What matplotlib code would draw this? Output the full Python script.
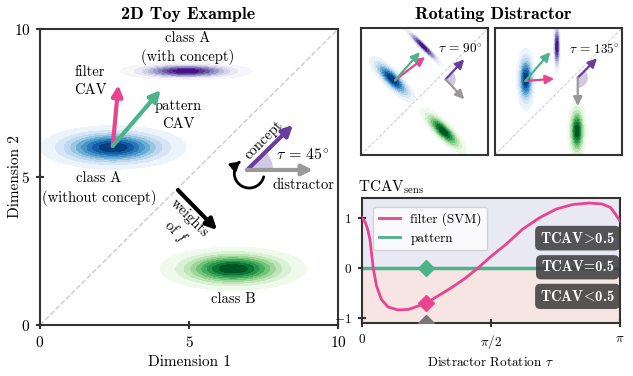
import numpy as np
import matplotlib.pyplot as plt
from matplotlib.patches import Wedge, FancyArrowPatch
from matplotlib.path import Path
from matplotlib.lines import Line2D

plt.rcParams['font.family'] = ['cmr10', 'DejaVu Serif']
plt.rcParams['mathtext.fontset'] = 'cm'
plt.rcParams['axes.formatter.use_mathtext'] = True
plt.rcParams['font.size'] = 10.5

# ---- data ----
# class blobs: centre, std along distractor / across, colormap
class_centers = [(2.45, 6.0), (4.9, 8.58), (6.48, 1.9)]
class_spread = [(1.0, 0.3), (0.9, 0.12), (1.0, 0.3)]
class_cmaps = ['Blues', 'Purples', 'Greens']

# panels: left big one (tau=45) and two small ones
panel_tau = [45, 90, 135]
cav_origin = [(2.44, 6.05), (2.68, 5.9), (2.41, 5.85)]
filter_tip = [(2.63, 8.11), (5.04, 7.74), (4.69, 6.03)]
pattern_tip = [(4.05, 7.94), (4.64, 8.13), (4.38, 8.13)]
concept_origin = [(6.95, 5.24), (6.66, 5.98), (6.54, 6.11)]
concept_tip = [(8.49, 6.76), (8.13, 7.56), (8.06, 7.64)]
distractor_tip = [(9.16, 5.24), (8.13, 4.41), (6.54, 3.88)]
weights_start, weights_end = (4.63, 4.56), (5.94, 3.21)

# TCAV sensitivity vs distractor rotation
filter_tau = [0.0, 0.04, 0.07, 0.10, 0.14, 0.18, 0.24, 0.32, 0.44, 0.57, 0.69,
              0.79, 0.93, 1.09, 1.26, 1.42, 1.57, 1.76, 1.96, 2.17, 2.37, 2.57,
              2.77, 2.93, 3.03, 3.09, np.pi]
filter_sens = [1.0, 0.92, 0.78, 0.57, 0.0, -0.36, -0.63, -0.78, -0.84, -0.83, -0.76,
               -0.70, -0.56, -0.40, -0.21, 0.0, 0.22, 0.47, 0.77, 1.0, 1.17, 1.26,
               1.29, 1.27, 1.20, 1.07, 0.94]
pattern_tau = [0.0, np.pi]
pattern_sens = [0.0, 0.0]
marker_tau = np.pi / 4
marker_filter, marker_pattern = -0.70, 0.0

PINK = '#e8448f'
GREEN = '#4db38a'
PURPLE = '#6a3d9a'
GRAY = '#999999'
SPINE = '#333333'


def blob(ax, center, spread, angle, cmap):
    xx, yy = np.meshgrid(np.linspace(0, 10, 300), np.linspace(0, 10, 300))
    dx, dy = xx - center[0], yy - center[1]
    a = np.deg2rad(angle)
    u = dx * np.cos(a) + dy * np.sin(a)
    v = -dx * np.sin(a) + dy * np.cos(a)
    z = np.exp(-0.5 * ((u / spread[0]) ** 2 + (v / spread[1]) ** 2))
    ax.contourf(xx, yy, z, levels=np.linspace(0.05, 1, 10), cmap=cmap, zorder=1)


def arrow(ax, start, end, color, lw, hw=0.3, hl=0.6):
    ax.annotate('', xy=end, xytext=start, zorder=4,
                arrowprops=dict(arrowstyle=f'-|>,head_width={hw},head_length={hl}',
                                color=color, lw=lw, shrinkA=0, shrinkB=0))


def style(ax):
    for s in ax.spines.values():
        s.set_color(SPINE)
        s.set_linewidth(1.5)


def draw_panel(ax, i, big):
    tau = panel_tau[i]
    ax.plot([0, 10], [0, 10], ls='--', color='#cccccc', lw=1 if big else 0.7, zorder=0)
    for c, s, cm in zip(class_centers, class_spread, class_cmaps):
        blob(ax, c, s, 45 - tau, cm)
    lw = 3 if big else 1.6
    hw, hl = (0.3, 0.6) if big else (0.25, 0.5)
    r = 0.87 if big else 0.8
    ax.add_patch(Wedge(concept_origin[i], r, 45 - tau, 45, facecolor='#d3c8e4',
                       edgecolor='none', zorder=2))
    arrow(ax, cav_origin[i], filter_tip[i], PINK, lw, hw, hl)
    arrow(ax, cav_origin[i], pattern_tip[i], GREEN, lw, hw, hl)
    arrow(ax, concept_origin[i], concept_tip[i], PURPLE, lw, hw, hl)
    arrow(ax, concept_origin[i], distractor_tip[i], GRAY, lw, hw, hl)
    ax.set_xlim(0, 10)
    ax.set_ylim(0, 10)
    style(ax)


fig = plt.figure(figsize=(6.33, 3.76), dpi=100)

# ---- left: 2D toy example ----
ax0 = fig.add_axes([0.0632, 0.1356, 0.4708, 0.787])
draw_panel(ax0, 0, True)
arrow(ax0, weights_start, weights_end, 'black', 3)
# rotation hint: clockwise arc around the distractor origin
arc_c, arc_r = (7.02, 5.13), 0.5
th = np.deg2rad(np.linspace(-14, -232, 60))
arc_path = Path(np.column_stack([arc_c[0] + arc_r * np.cos(th), arc_c[1] + arc_r * np.sin(th)]))
ax0.add_patch(FancyArrowPatch(path=arc_path, arrowstyle='-|>,head_width=3,head_length=5',
                              color='black', lw=2, zorder=3))

ax0.text(1.68, 8.24, 'filter\nCAV', ha='center', va='center', linespacing=1.4)
ax0.text(4.63, 7.09, 'pattern\nCAV', ha='center', va='center', linespacing=1.4)
ax0.text(4.97, 9.36, 'class A\n(with concept)', ha='center', va='center', linespacing=1.4)
ax0.text(1.98, 4.6, 'class A\n(without concept)', ha='center', va='center', linespacing=1.4)
ax0.text(6.48, 0.88, 'class B', ha='center', va='center')
ax0.text(7.5, 6.25, 'concept', ha='center', va='center', rotation=45)
ax0.text(8.83, 5.74, r'$\tau\,=\,45^{\circ}$', ha='center', va='center', fontsize=11.5)
ax0.text(8.83, 4.73, 'distractor', ha='center', va='center')
ax0.text(4.77, 3.34, 'weights\nof $f$', ha='center', va='center', rotation=-45, linespacing=1.3)
ax0.set_xticks([0, 5, 10])
ax0.set_yticks([0, 5, 10])
ax0.tick_params(direction='inout', length=6, width=1.5, color=SPINE, pad=4, labelsize=11)
ax0.set_xlabel('Dimension 1', fontsize=11)
ax0.set_ylabel('Dimension 2', fontsize=11)
ax0.yaxis.set_label_coords(-0.06, 0.5)
fig.text(0.297, 0.962, '2D Toy Example', ha='center', va='center',
         family='cmb10', fontsize=13)

# ---- top right: rotating distractor ----
for i, left in [(1, 0.5703), (2, 0.7815)]:
    ax = fig.add_axes([left, 0.5876, 0.2006, 0.3367])
    draw_panel(ax, i, False)
    ax.set_xticks([])
    ax.set_yticks([])
    ax.text(7.85, 8.4, rf'$\tau\,=\,{panel_tau[i]}^{{\circ}}$', ha='center', va='center',
            fontsize=9.5)
fig.text(0.779, 0.962, 'Rotating Distractor', ha='center', va='center',
         family='cmb10', fontsize=13)

# ---- bottom right: TCAV sensitivity ----
ax2 = fig.add_axes([0.5714, 0.141, 0.4075, 0.3324])
ax2.axhspan(0, 2, color='#e9e9f4', zorder=0)
ax2.axhspan(-2, 0, color='#f6e5e3', zorder=0)
ax2.plot(pattern_tau, pattern_sens, color=GREEN, lw=2.5, zorder=2)
ax2.plot(filter_tau, filter_sens, color=PINK, lw=2, zorder=3)
ax2.plot([marker_tau], [marker_pattern], 'D', color=GREEN, ms=8, zorder=4)
ax2.plot([marker_tau], [marker_filter], 'D', color=PINK, ms=8, zorder=4)
ax2.plot([marker_tau], [-1.1], 'D', color='#777777', ms=8, zorder=4, clip_on=True)
ax2.set_xlim(0, np.pi)
ax2.set_ylim(-1.1, 1.39)
ax2.set_xticks([0, np.pi / 2, np.pi])
ax2.set_xticklabels(['$0$', r'$\pi/2$', r'$\pi$'])
ax2.set_yticks([-1, 0, 1])
ax2.tick_params(direction='inout', length=6, width=1.5, color=SPINE, pad=4, labelsize=9.5)
ax2.set_xlabel(r'Distractor Rotation $\tau$', fontsize=9.5)
style(ax2)
ax2.text(-0.015, 1.02, r'TCAV$_{\mathrm{sens}}$', transform=ax2.transAxes,
         ha='left', va='bottom', fontsize=11)
handles = [Line2D([], [], color=PINK, lw=2), Line2D([], [], color=GREEN, lw=2)]
ax2.legend(handles, ['filter (SVM)', 'pattern'], loc='upper left', framealpha=0.8,
           handlelength=1.6, borderaxespad=0.5, bbox_to_anchor=(0.02, 0.98), fontsize=9.5)
box = dict(boxstyle='round,pad=0.35', facecolor='#3a3a3a', alpha=0.85, edgecolor='none')
for y, lab in [(0.59, r'TCAV$\!>\!$0.5'), (0.01, 'TCAV=0.5'), (-0.57, r'TCAV$\!<\!$0.5')]:
    ax2.text(2.63, y, lab, ha='center', va='center', color='white', family='cmb10',
             fontsize=10.5, bbox=box, zorder=5)

plt.savefig('out.png', dpi=100)
